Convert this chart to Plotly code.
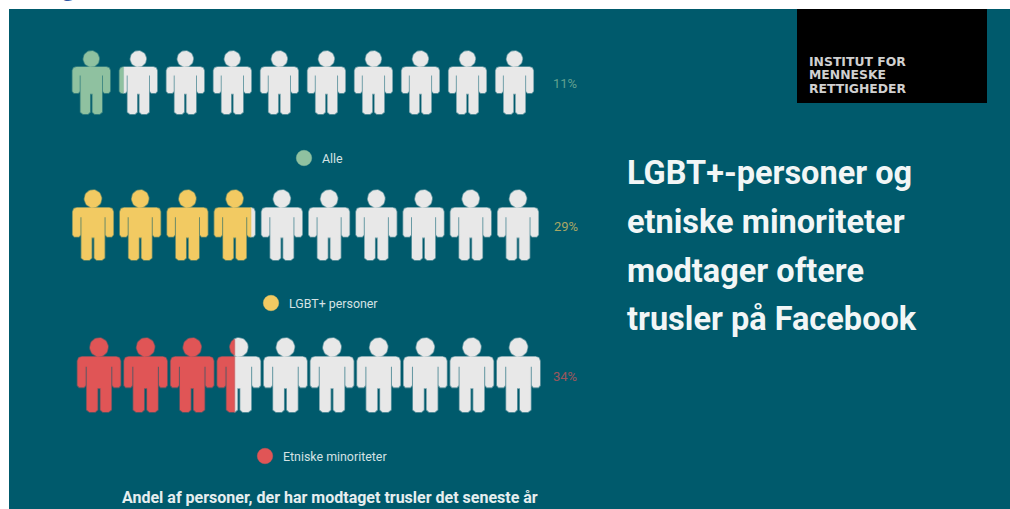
import numpy as np
import plotly.graph_objects as go

# ---- data ----
group_names = ["Alle", "LGBT+ personer", "Etniske minoriteter"]
pct_labels = ["11%", "29%", "34%"]
filled_icons = [1.1, 3.9, 3.4]
icons_per_row = 10
title_lines = ["LGBT+-personer og", "etniske minoriteter", "modtager oftere", "trusler på Facebook"]
logo_lines = ["INSTITUT FOR", "MENNESKE", "RETTIGHEDER"]
footnote = "Andel af personer, der har modtaget trusler det seneste år"

# ---- style / layout ----
TEAL = "#005A6C"
WHITE_ICON = "#E8E8E8"
colors = ["#8FC1A0", "#F2CA62", "#E05556"]
first_cx = [91.3, 93, 99]
last_cx = [514.5, 518, 518.5]
top_y = [51, 190, 338]
icon_w = [37.5, 40.5, 43]
icon_h = [63, 70, 74]
legend_dot_x = [304, 271, 265]
legend_y = [158, 303, 456]
legend_text_x = [320, 287, 281]
pct_x = [551, 552, 551]
pct_y = [83, 226, 376]

# icon outline in unit coordinates (x: -0.5..0.5, y: 0 top of head .. 1 feet)
BODY = np.array([
    (-0.40, 0.255), (0.40, 0.255), (0.47, 0.268), (0.5, 0.31), (0.5, 0.64), (0.46, 0.667), (0.35, 0.667),
    (0.31, 0.64), (0.31, 0.39), (0.285, 0.39), (0.285, 0.97), (0.22, 1.0), (0.09, 1.0),
    (0.035, 0.97), (0.035, 0.68), (-0.035, 0.68), (-0.035, 0.97), (-0.09, 1.0), (-0.22, 1.0),
    (-0.285, 0.97), (-0.285, 0.39), (-0.31, 0.39), (-0.31, 0.64), (-0.35, 0.667), (-0.46, 0.667),
    (-0.5, 0.64), (-0.5, 0.31), (-0.47, 0.268),
])
t = np.linspace(0, 2 * np.pi, 40, endpoint=False)
HEAD = np.column_stack([0.21 * np.cos(t), 0.125 + 0.125 * np.sin(t)])


def clip(poly, cut, keep_left):
    out = []
    n = len(poly)
    for i in range(n):
        a, b = poly[i], poly[(i + 1) % n]
        ina = a[0] <= cut if keep_left else a[0] >= cut
        inb = b[0] <= cut if keep_left else b[0] >= cut
        if ina:
            out.append(a)
        if ina != inb:
            s = (cut - a[0]) / (b[0] - a[0])
            out.append(a + s * (b - a))
    return np.array(out)


def soft(color, alpha):
    h = color.lstrip("#")
    return f"rgba({int(h[:2],16)},{int(h[2:4],16)},{int(h[4:],16)},{alpha})"


def add_polys(fig, polys, color):
    xs, ys = [], []
    for p in polys:
        if len(p) == 0:
            continue
        xs += list(p[:, 0]) + [p[0, 0], None]
        ys += list(p[:, 1]) + [p[0, 1], None]
    fig.add_trace(go.Scatter(x=xs, y=ys, mode="lines", fill="toself", fillcolor=color,
                             line=dict(color=soft(color, 0.45), width=1.6),
                             hoverinfo="skip", showlegend=False))


fig = go.Figure()

for r in range(len(group_names)):
    step = (last_cx[r] - first_cx[r]) / (icons_per_row - 1)
    on, off = [], []
    for i in range(icons_per_row):
        frac = filled_icons[r] - i
        cx = first_cx[r] + i * step
        left = cx - icon_w[r] / 2
        cut = left + min(max(frac, 0), 1) * icon_w[r]
        for shape in (BODY, HEAD):
            p = np.column_stack([cx + shape[:, 0] * icon_w[r], top_y[r] + shape[:, 1] * icon_h[r]])
            if frac >= 1:
                on.append(p)
            elif frac <= 0:
                off.append(p)
            else:
                on.append(clip(p, cut, True))
                off.append(clip(p, cut, False))
    add_polys(fig, off, WHITE_ICON)
    add_polys(fig, on, colors[r])

    fig.add_trace(go.Scatter(x=[legend_dot_x[r]], y=[legend_y[r]], mode="markers",
                             marker=dict(size=15.5, color=colors[r], line=dict(width=1, color=soft(colors[r], 0.4))),
                             hoverinfo="skip", showlegend=False))
    fig.add_annotation(x=legend_text_x[r], y=legend_y[r], text=group_names[r], showarrow=False,
                       xanchor="left", yanchor="middle", font=dict(family="Roboto", size=12.4, color="#D5E2E4"))
    fig.add_annotation(x=pct_x[r], y=pct_y[r], text=pct_labels[r], showarrow=False,
                       xanchor="left", yanchor="middle", font=dict(family="Roboto", size=13, color=soft(colors[r], 0.7)))

for line, y in zip(title_lines, [173, 222, 271, 319]):
    fig.add_annotation(x=625, y=y, text=line, showarrow=False, xanchor="left", yanchor="middle",
                       font=dict(family="Roboto", size=32.5, color="#F2F6F6", weight="bold"))

for line, y in zip(logo_lines, [61, 74.5, 88]):
    fig.add_annotation(x=807, y=y, text=line, showarrow=False, xanchor="left", yanchor="middle",
                       font=dict(family="DejaVu Sans", size=12.4, color="#D0D0D0", weight="bold"))

fig.add_annotation(x=330, y=497, text=footnote, showarrow=False, xanchor="center", yanchor="middle",
                   font=dict(family="Roboto", size=16, color="#E6EEEF", weight="bold"))

# clipped descender of the page heading above the picture
fig.add_annotation(xref="paper", yref="paper", x=68.5 / 1010, y=1 + 14 / 509, text="g", showarrow=False,
                   xanchor="center", yanchor="middle",
                   font=dict(family="Open Sans", size=24, color="#2F55A4"))

fig.update_layout(
    width=1010, height=509, margin=dict(l=0, r=0, t=0, b=0),
    paper_bgcolor="white", plot_bgcolor="white", showlegend=False,
    xaxis=dict(range=[0, 1010], visible=False, fixedrange=True),
    yaxis=dict(range=[509, 0], visible=False, fixedrange=True),
    shapes=[
        dict(type="rect", xref="x", yref="y", x0=9, x1=1010, y0=9, y1=509, fillcolor=TEAL, line_width=0, layer="below"),
        dict(type="rect", xref="x", yref="y", x0=797, x1=987, y0=9, y1=103, fillcolor="#000000", line_width=0, layer="below"),
    ],
)

fig.write_html("out.html", post_script="document.body.style.margin='0';document.body.style.overflow='hidden';",
               config={"displayModeBar": False})
